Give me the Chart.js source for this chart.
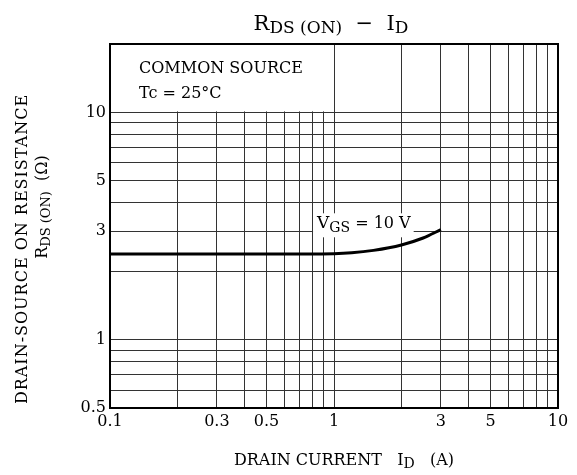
<!DOCTYPE html>
<html>
<head>
<meta charset="utf-8">
<script src="https://cdn.jsdelivr.net/npm/chart.js@4.4.1/dist/chart.umd.min.js"></script>
<style>
  html, body { margin: 0; padding: 0; background: #fff; }
  #wrap { width: 577px; height: 475px; }
</style>
</head>
<body>
<div id="wrap"><canvas id="rdsChart" width="577" height="475"></canvas></div>
<script>
// R_DS(ON) vs I_D, log-log, Tc = 25C, VGS = 10 V

var drainCurrent = [0.1, 0.2, 0.5, 1.0, 1.2, 1.5, 2.0, 2.5, 3.0];
var rdsOn        = [2.38, 2.38, 2.38, 2.39, 2.41, 2.47, 2.61, 2.8, 3.05];

var xGridValues = [0.1, 0.2, 0.3, 0.4, 0.5, 0.6, 0.7, 0.8, 0.9, 1, 2, 3, 4, 5, 6, 7, 8, 9, 10];
var yGridValues = [0.5, 0.6, 0.7, 0.8, 0.9, 1, 2, 3, 4, 5, 6, 7, 8, 9, 10, 20];
var xTickLabels = [0.1, 0.3, 0.5, 1, 3, 5, 10];
var yTickLabels = [0.5, 1, 3, 5, 10];

var SERIF = "'DejaVu Serif', 'Liberation Serif', serif";
var GRID = '#333';

// draws a run of text pieces [text, size, dy] starting at x
function drawRuns(ctx, runs, x, y, align) {
  var total = runsWidth(ctx, runs);
  var cx = x;
  if (align === 'center') cx = x - total / 2;
  if (align === 'right') cx = x - total;
  ctx.textAlign = 'left';
  ctx.textBaseline = 'alphabetic';
  runs.forEach(function(r) {
    ctx.font = r[1] + 'px ' + SERIF;
    ctx.fillText(r[0], cx, y + (r[2] || 0));
    cx += ctx.measureText(r[0]).width;
  });
  return total;
}

function runsWidth(ctx, runs) {
  var w = 0;
  runs.forEach(function(r) { ctx.font = r[1] + 'px ' + SERIF; w += ctx.measureText(r[0]).width; });
  return w;
}

var blankCorner = {
  id: 'blankCorner',
  beforeDatasetsDraw: function(chart) {
    // text box in the top-left has no grid lines
    var ctx = chart.ctx;
    var xs = chart.scales.x, ys = chart.scales.y;
    var x0 = xs.getPixelForValue(0.1) + 1;
    var x1 = xs.getPixelForValue(1) - 1;
    var y0 = ys.getPixelForValue(20) + 1;
    var y1 = ys.getPixelForValue(10) - 1;
    ctx.save();
    ctx.fillStyle = '#fff';
    ctx.fillRect(x0, y0, x1 - x0, y1 - y0);
    ctx.restore();
  }
};

var textLayer = {
  id: 'textLayer',
  afterDraw: function(chart) {
    var ctx = chart.ctx;
    var a = chart.chartArea;
    var xs = chart.scales.x, ys = chart.scales.y;
    ctx.save();
    ctx.fillStyle = '#000';

    // frame
    ctx.strokeStyle = '#000';
    ctx.lineWidth = 2;
    ctx.strokeRect(a.left, a.top, a.right - a.left, a.bottom - a.top);

    // title
    drawRuns(ctx, [['R', 21, 0], ['DS (ON)', 17, 3], ['  \u2212  I', 21, 0], ['D', 17, 3]],
      331, 30, 'center');

    // x axis title
    drawRuns(ctx, [['DRAIN CURRENT   I', 16, 0], ['D', 14, 3], ['   (A)', 16, 0]],
      344, 465, 'center');

    // y axis title
    ctx.save();
    ctx.translate(27, 249);
    ctx.rotate(-Math.PI / 2);
    ctx.letterSpacing = '1px';
    drawRuns(ctx, [['DRAIN-SOURCE ON RESISTANCE', 16, 0]], 0, 0, 'center');
    ctx.letterSpacing = '0px';
    ctx.restore();
    ctx.save();
    ctx.translate(47, 207);
    ctx.rotate(-Math.PI / 2);
    drawRuns(ctx, [['R', 16, 0], ['DS (ON)', 13, 3], ['  (\u03A9)', 16, 0]], 0, 0, 'center');
    ctx.restore();

    // conditions
    drawRuns(ctx, [['COMMON SOURCE', 16, 0]], a.left + 29, 73, 'left');
    drawRuns(ctx, [['Tc = 25\u00B0C', 16, 0]], a.left + 29, 98, 'left');

    // curve label with white backing
    var lx = xs.getPixelForValue(0.84);
    var ly = ys.getPixelForValue(3.25) + 5;
    var runs = [['V', 17, 0], ['GS', 14, 4], [' = 10 V', 16, 0]];
    var w = runsWidth(ctx, runs);
    ctx.fillStyle = '#fff';
    ctx.fillRect(lx - 4, ly - 15, w + 7, 24);
    ctx.fillStyle = '#000';
    drawRuns(ctx, runs, lx, ly, 'left');

    ctx.restore();
  }
};

var ctx = document.getElementById('rdsChart');
var chart = new Chart(ctx, {
  type: 'line',
  data: {
    datasets: [{
      data: drainCurrent.map(function(x, i) { return { x: x, y: rdsOn[i] }; }),
      borderColor: '#000',
      borderWidth: 3,
      pointRadius: 0,
      cubicInterpolationMode: 'monotone',
      fill: false
    }]
  },
  options: {
    responsive: false,
    animation: false,
    devicePixelRatio: 1,
    layout: { padding: { left: 0, right: 19, top: 44, bottom: 0 } },
    plugins: { legend: { display: false }, tooltip: { enabled: false } },
    scales: {
      x: {
        type: 'logarithmic',
        min: 0.1,
        max: 10,
        afterBuildTicks: function(s) { s.ticks = xGridValues.map(function(v) { return { value: v }; }); },
        afterFit: function(s) { s.height = 67; },
        grid: { color: GRID, lineWidth: 1, drawTicks: false },
        border: { color: '#000', width: 2 },
        ticks: {
          autoSkip: false,
          maxRotation: 0,
          padding: 4,
          color: '#000',
          font: { family: SERIF, size: 16 },
          callback: function(v) { return xTickLabels.indexOf(v) >= 0 ? String(v) : ''; }
        }
      },
      y: {
        type: 'logarithmic',
        min: 0.5,
        max: 20,
        afterBuildTicks: function(s) { s.ticks = yGridValues.map(function(v) { return { value: v }; }); },
        afterFit: function(s) { s.width = 110; },
        grid: { color: GRID, lineWidth: 1, drawTicks: false },
        border: { color: '#000', width: 2 },
        ticks: {
          autoSkip: false,
          padding: 4,
          color: '#000',
          font: { family: SERIF, size: 16 },
          callback: function(v) { return yTickLabels.indexOf(v) >= 0 ? String(v) : ''; }
        }
      }
    }
  },
  plugins: [blankCorner, textLayer]
});
</script>
</body>
</html>
